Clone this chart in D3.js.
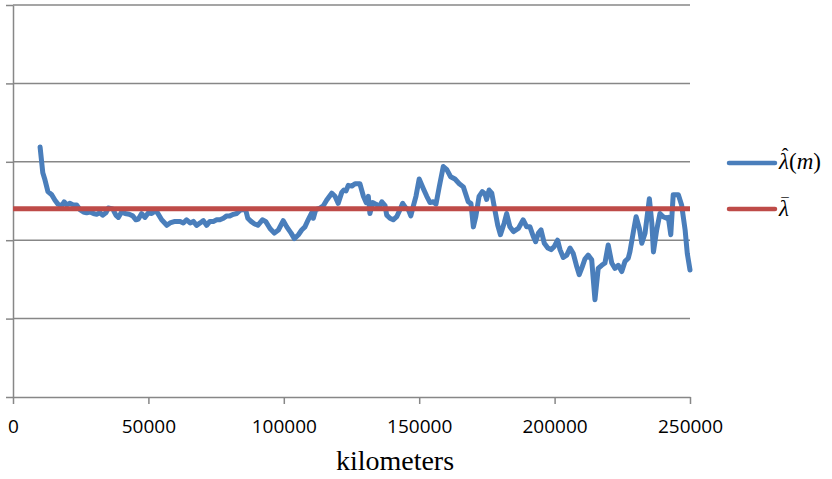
<!DOCTYPE html>
<html lang="en">
<head>
<meta charset="utf-8">
<title>lambda estimate</title>
<script src="https://d3js.org/d3.v7.min.js"></script>
<style>
  body { margin: 0; background: #fff; }
  .grid line { stroke: #878787; stroke-width: 1.5; }
  .axis path, .axis line { stroke: #878787; stroke-width: 1.5; }
  .axis text { font-family: "Open Sans", "Liberation Sans", sans-serif; font-size: 19px; fill: #000; }
  .line { fill: none; stroke-linejoin: round; stroke-linecap: round; }
  .legend text { font-family: "Liberation Serif", "Times New Roman", serif; font-size: 23px; fill: #000; }
</style>
</head>
<body>
<script>
// distance travelled (km) and running estimate lambda-hat(m)
var km = [10000, 11000, 11800, 12900, 14300, 15500, 16600, 18000, 18900, 19800,
  21000, 22300, 23500, 24700, 26000, 27200, 28400, 29700, 30900, 32100,
  33100, 34300, 35200, 36800, 38000, 38900, 40100, 41400, 42900, 44200,
  45400, 46300, 47500, 48700, 50000, 51200, 52800, 53700, 54900, 56800,
  58000, 59800, 61700, 62900, 64100, 65400, 66600, 67800, 69100, 70300,
  71500, 72700, 74000, 75200, 76400, 77700, 78900, 80100, 81400, 82600,
  83800, 85000, 85900, 86700, 87900, 89100, 90400, 92100, 93300, 94900,
  96500, 98000, 99800, 101100, 102700, 103900, 105400, 106600, 107800, 109000,
  110300, 110900, 111800, 113400, 114600, 115800, 117700, 118900, 120100, 121400,
  122200, 123000, 123800, 125100, 126300, 128100, 129400, 130400, 131200, 131800,
  132800, 134000, 135300, 136200, 137400, 138000, 139200, 140400, 141700, 142900,
  143900, 145100, 146000, 146900, 147800, 148800, 150000, 151500, 152800, 154000,
  155200, 156200, 157400, 158900, 160200, 161600, 163200, 164800, 166300, 168100,
  169100, 170000, 170900, 172100, 173300, 174300, 174900, 175800, 176800, 177700,
  179000, 180000, 181400, 182300, 183500, 184800, 186600, 188400, 189700, 190900,
  192100, 193000, 194000, 195000, 196200, 197500, 198700, 199900, 201100, 202000,
  203200, 204500, 205700, 206900, 208200, 209100, 210200, 211200, 212400, 213700,
  214900, 216100, 217400, 218600, 219800, 221100, 222300, 223500, 224800, 226000,
  227200, 227800, 229100, 230100, 231300, 232200, 233400, 235000, 235900, 236500,
  237700, 238900, 240100, 241400, 242000, 242900, 243800, 245700, 246900, 248200,
  249000, 250000];

var lambdaHat = [3.19, 2.86, 2.77, 2.62, 2.58, 2.51, 2.46, 2.44, 2.49, 2.45,
  2.47, 2.45, 2.45, 2.39, 2.36, 2.35, 2.36, 2.34, 2.33, 2.35,
  2.32, 2.35, 2.41, 2.40, 2.32, 2.29, 2.36, 2.34, 2.33, 2.31,
  2.26, 2.27, 2.34, 2.29, 2.35, 2.34, 2.38, 2.33, 2.26, 2.19,
  2.22, 2.24, 2.24, 2.22, 2.26, 2.22, 2.24, 2.19, 2.22, 2.25,
  2.19, 2.24, 2.24, 2.26, 2.26, 2.28, 2.31, 2.31, 2.33, 2.34,
  2.38, 2.39, 2.39, 2.28, 2.24, 2.21, 2.19, 2.26, 2.24, 2.15,
  2.09, 2.13, 2.25, 2.17, 2.09, 2.02, 2.07, 2.13, 2.17, 2.26,
  2.35, 2.28, 2.39, 2.41, 2.44, 2.51, 2.60, 2.56, 2.47, 2.61,
  2.64, 2.63, 2.70, 2.69, 2.72, 2.72, 2.56, 2.48, 2.56, 2.34,
  2.48, 2.46, 2.43, 2.49, 2.44, 2.32, 2.28, 2.26, 2.30, 2.39,
  2.47, 2.41, 2.39, 2.31, 2.43, 2.56, 2.78, 2.66, 2.56, 2.48,
  2.49, 2.46, 2.68, 2.94, 2.90, 2.81, 2.78, 2.72, 2.68, 2.49,
  2.47, 2.17, 2.30, 2.56, 2.62, 2.59, 2.52, 2.64, 2.60, 2.43,
  2.19, 2.07, 2.22, 2.34, 2.17, 2.11, 2.15, 2.26, 2.17, 2.17,
  2.05, 1.98, 2.09, 2.13, 1.96, 1.90, 1.88, 1.92, 2.00, 1.88,
  1.78, 1.81, 1.90, 1.83, 1.66, 1.56, 1.66, 1.76, 1.81, 1.75,
  1.24, 1.64, 1.68, 1.71, 1.94, 1.71, 1.64, 1.68, 1.60, 1.73,
  1.77, 1.85, 2.11, 2.30, 2.15, 1.96, 2.09, 2.53, 2.22, 1.85,
  2.13, 2.34, 2.30, 2.28, 2.29, 2.07, 2.58, 2.58, 2.45, 2.13,
  1.83, 1.62];

// overall mean lambda-bar
var meanKm = [0, 250000];
var lambdaBar = 2.4;

var xTicks = [0, 50000, 100000, 150000, 200000, 250000];
var yTicks = [0, 1, 2, 3, 4, 5];
var xTitle = "kilometers";

var w = 832, h = 479;
var plotLeft = 13, plotRight = 690, plotTop = 5, plotBottom = 397;

var svg = d3.select("body").append("svg")
  .attr("width", w)
  .attr("height", h);

var xScale = d3.scaleLinear().domain([0, 250000]).range([plotLeft, plotRight]);
var yScale = d3.scaleLinear().domain([0, 5]).range([plotBottom, plotTop]);

// horizontal gridlines
svg.append("g")
  .attr("class", "grid")
  .selectAll("line")
  .data(yTicks.slice(1))
  .enter().append("line")
  .attr("x1", plotLeft)
  .attr("x2", plotRight)
  .attr("y1", function(d) { return yScale(d); })
  .attr("y2", function(d) { return yScale(d); });

// y axis: tick marks only
var yAxis = d3.axisLeft(yScale)
  .tickValues(yTicks)
  .tickSize(7)
  .tickSizeOuter(0)
  .tickFormat("");

svg.append("g")
  .attr("class", "axis")
  .attr("transform", "translate(" + plotLeft + ",0)")
  .call(yAxis);

// x axis
var xAxis = d3.axisBottom(xScale)
  .tickValues(xTicks)
  .tickSize(7)
  .tickSizeOuter(0)
  .tickFormat(d3.format("d"));

var gx = svg.append("g")
  .attr("class", "axis")
  .attr("transform", "translate(0," + plotBottom + ")")
  .call(xAxis);

gx.selectAll("text")
  .attr("y", 36)
  .attr("dy", null);

svg.append("text")
  .attr("x", 395)
  .attr("y", 470)
  .attr("text-anchor", "middle")
  .style("font-family", "'Liberation Serif', 'Times New Roman', serif")
  .style("font-size", "28px")
  .text(xTitle);

// series
var series = km.map(function(d, i) { return { km: d, v: lambdaHat[i] }; });

var line = d3.line()
  .x(function(d) { return xScale(d.km); })
  .y(function(d) { return yScale(d.v); });

svg.append("path")
  .datum(series)
  .attr("class", "line")
  .style("stroke", "#4a7ebb")
  .style("stroke-width", 5)
  .attr("d", line);

svg.append("path")
  .datum(meanKm.map(function(d) { return { km: d, v: lambdaBar }; }))
  .attr("class", "line")
  .style("stroke", "#be4b48")
  .style("stroke-width", 5)
  .style("stroke-linecap", "butt")
  .attr("d", line);

// legend
var legend = svg.append("g").attr("class", "legend");

legend.append("line")
  .attr("x1", 729).attr("x2", 775)
  .attr("y1", 163).attr("y2", 163)
  .style("stroke", "#4a7ebb")
  .style("stroke-width", 4.5)
  .style("stroke-linecap", "round");

legend.append("line")
  .attr("x1", 729).attr("x2", 775)
  .attr("y1", 209).attr("y2", 209)
  .style("stroke", "#be4b48")
  .style("stroke-width", 4.5)
  .style("stroke-linecap", "round");

var t1 = legend.append("text")
  .attr("x", 779)
  .attr("y", 169);
var lam1 = t1.append("tspan").style("font-style", "italic").text("λ");
t1.append("tspan").text("(");
t1.append("tspan").style("font-style", "italic").text("m");
t1.append("tspan").text(")");

// accents set above the lambdas
var lw = lam1.node().getComputedTextLength();
legend.append("text")
  .attr("x", 779 + lw / 2 + 1)
  .attr("y", 163)
  .attr("text-anchor", "middle")
  .style("font-size", "20px")
  .text("ˆ");

legend.append("text")
  .attr("x", 779)
  .attr("y", 216)
  .style("font-style", "italic")
  .text("λ");

legend.append("text")
  .attr("x", 779 + lw / 2 + 1)
  .attr("y", 208)
  .attr("text-anchor", "middle")
  .style("font-size", "15px")
  .text("¯");
</script>
</body>
</html>
